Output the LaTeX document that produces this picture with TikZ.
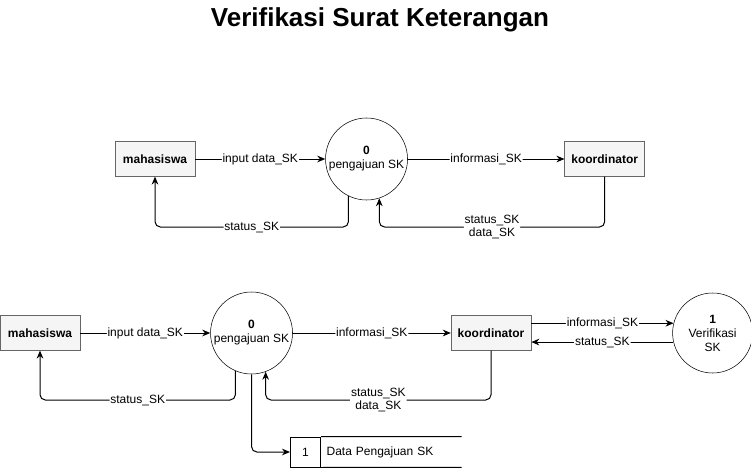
\documentclass[tikz,border=0pt]{standalone}
\usepackage{fontspec}
\setmainfont{Liberation Sans}
\usetikzlibrary{arrows.meta,positioning}
\definecolor{BoxFill}{RGB}{245,245,245}
\definecolor{BoxLine}{RGB}{102,102,102}
\tikzset{
  entity/.style={draw=BoxLine,fill=BoxFill,font=\bfseries\fontsize{9}{11}\selectfont,
    minimum width=60pt,minimum height=26pt,inner sep=0pt,align=center},
  proc/.style={draw,circle,minimum size=61.5pt,inner sep=0pt,align=center,
    font=\fontsize{9}{10.5}\selectfont},
  lbl/.style={fill=white,inner sep=0.6pt,align=center,
    font=\fontsize{9}{10}\selectfont},
  flow/.style={-{Stealth[length=6pt,width=5pt]},line width=0.75pt,rounded corners=4pt},
  line/.style={line width=0.75pt,rounded corners=4pt}
}
\begin{document}
\begin{tikzpicture}[x=0.75pt,y=-0.75pt]
  \useasboundingbox (0,0) rectangle (751,468);
  \node[font=\bfseries\fontsize{19.5}{23}\selectfont] (title) at (380,20)
    {Verifikasi Surat Keterangan};

  % context diagram
  \node[entity] (m1) at (155,159) {mahasiswa};
  \node[proc,right=97.5pt of m1] (p0) {\textbf{0}\\pengajuan SK};
  \node[entity,right=117.5pt of p0] (k1) {koordinator};
  \coordinate (r1) at (0,227);

  \draw[flow] (m1) -- node[lbl] {input data\_SK} (p0);
  \draw[flow] (p0) -- node[lbl] {informasi\_SK} (k1);
  \draw[flow] (p0.244) -- (p0.244 |- r1) -| node[lbl,pos=0.25] {status\_SK} (m1.south);
  \draw[flow] (k1.south) -- (k1.south |- r1) -| node[lbl,pos=0.25] {status\_SK\\data\_SK} (p0.288);

  % level 1
  \node[entity] (m2) at (40,333) {mahasiswa};
  \node[proc,right=97.5pt of m2] (p2) {\textbf{0}\\pengajuan SK};
  \node[entity,right=118.5pt of p2] (k2) {koordinator};
  \node[proc,minimum size=60pt,right=105.75pt of k2] (v1) {\textbf{1}\\Verifikasi\\SK};
  \coordinate (r2) at (0,400);

  \draw[flow] (m2) -- node[lbl] {input data\_SK} (p2);
  \draw[flow] (p2) -- node[lbl] {informasi\_SK} (k2);
  \draw[flow] (v1.166 -| k2.east) -- node[lbl] {informasi\_SK} (v1.166);
  \draw[flow] (v1.193) -- node[lbl] {status\_SK} (v1.193 -| k2.east);
  \draw[flow] (p2.247) -- (p2.247 |- r2) -| node[lbl,pos=0.25] {status\_SK} (m2.south);
  \draw[flow] (k2.south) -- (k2.south |- r2) -| node[lbl,pos=0.25] {status\_SK\\data\_SK} (p2.290);

  % data store
  \node[draw,line width=0.75pt,minimum width=22.5pt,minimum height=22.5pt,inner sep=0pt,
    font=\fontsize{9}{10}\selectfont,anchor=west] (ds) at (290,452) {1};
  \node[minimum width=105pt,minimum height=22.5pt,inner sep=0pt,anchor=west,
    font=\fontsize{9}{10}\selectfont,text width=97pt] (dsl) at (ds.east) {Data Pengajuan SK};
  \draw[line width=0.75pt] (ds.north east) -- (dsl.north east);
  \draw[line width=0.75pt] (ds.south east) -- (dsl.south east);
  \draw[flow] (p2.south) |- (ds.west);
\end{tikzpicture}
\end{document}
